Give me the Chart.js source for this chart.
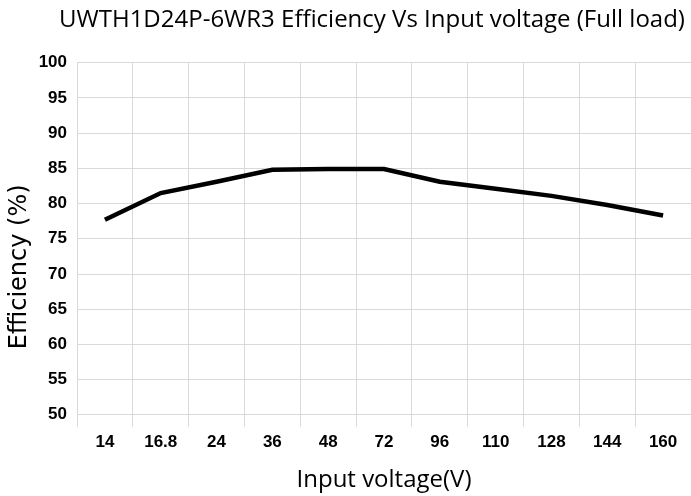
<!DOCTYPE html>
<html>
<head>
<meta charset="utf-8">
<script src="https://cdn.jsdelivr.net/npm/chart.js@4"></script>
<style>
html,body{margin:0;padding:0;background:#fff;}
#wrap{width:691px;height:496px;}
</style>
</head>
<body>
<div id="wrap"><canvas id="c" width="691" height="496"></canvas></div>
<script>
const categories = ["14","16.8","24","36","48","72","96","110","128","144","160"];
const efficiency = [77.7, 81.5, 83.1, 84.8, 84.9, 84.9, 83.1, 82.1, 81.1, 79.8, 78.3];
const yTicks = [50,55,60,65,70,75,80,85,90,95,100];
const titleText = "UWTH1D24P-6WR3 Efficiency Vs Input voltage (Full load)";
const xTitle = "Input voltage(V)";
const yTitle = "Efficiency (%)";

const shiftTitle = {
  id: 'shiftTitle',
  beforeDraw(chart) {
    if (chart.titleBlock) { chart.titleBlock.left = 53; chart.titleBlock.right = 691; }
  }
};

// y-axis title placed slightly below the plot centre, as in the reference
const yAxisTitle = {
  id: 'yAxisTitle',
  afterDraw(chart) {
    const ctx = chart.ctx;
    const area = chart.chartArea;
    ctx.save();
    ctx.translate(20, (area.top + area.bottom) / 2 + 28);
    ctx.rotate(-Math.PI / 2);
    ctx.font = '24px "DejaVu Sans"';
    ctx.fillStyle = '#000';
    ctx.textAlign = 'center';
    ctx.textBaseline = 'middle';
    ctx.fillText(yTitle, 0, 0);
    ctx.restore();
  }
};

new Chart(document.getElementById('c'), {
  type: 'line',
  data: {
    labels: categories,
    datasets: [{
      data: efficiency,
      borderColor: '#000',
      borderWidth: 4.5,
      pointRadius: 0,
      tension: 0,
      fill: false
    }]
  },
  plugins: [shiftTitle, yAxisTitle],
  options: {
    responsive: false,
    animation: false,
    layout: { padding: { left: 4, right: -4, top: 6, bottom: 1 } },
    plugins: {
      legend: { display: false },
      tooltip: { enabled: false },
      title: {
        display: true,
        text: titleText,
        color: '#000',
        font: { family: 'Open Sans', size: 24, weight: 'normal' },
        padding: { top: 0, bottom: 28 },
        align: 'center'
      }
    },
    scales: {
      x: {
        type: 'category',
        offset: true,
        grid: { offset: true, color: '#d9d9d9', tickLength: 12, drawTicks: true },
        border: { color: '#d9d9d9' },
        ticks: { color: '#000', font: { family: 'Liberation Sans', size: 17, weight: 'bold' }, padding: 5, maxRotation: 0 },
        title: { display: true, text: xTitle, color: '#000', font: { family: 'Open Sans', size: 24 }, padding: { top: 9, bottom: 0 } }
      },
      y: {
        min: 50, max: 100,
        afterBuildTicks: (axis) => { axis.ticks = yTicks.map(v => ({ value: v })); },
        grid: { color: '#d9d9d9', drawTicks: false },
        border: { color: '#d9d9d9' },
        ticks: { color: '#000', font: { family: 'Liberation Sans', size: 17, weight: 'bold' }, padding: 10 },
        title: { display: false, text: yTitle },
        afterFit: (axis) => { axis.width = 73; }
      }
    }
  }
});
</script>
</body>
</html>
